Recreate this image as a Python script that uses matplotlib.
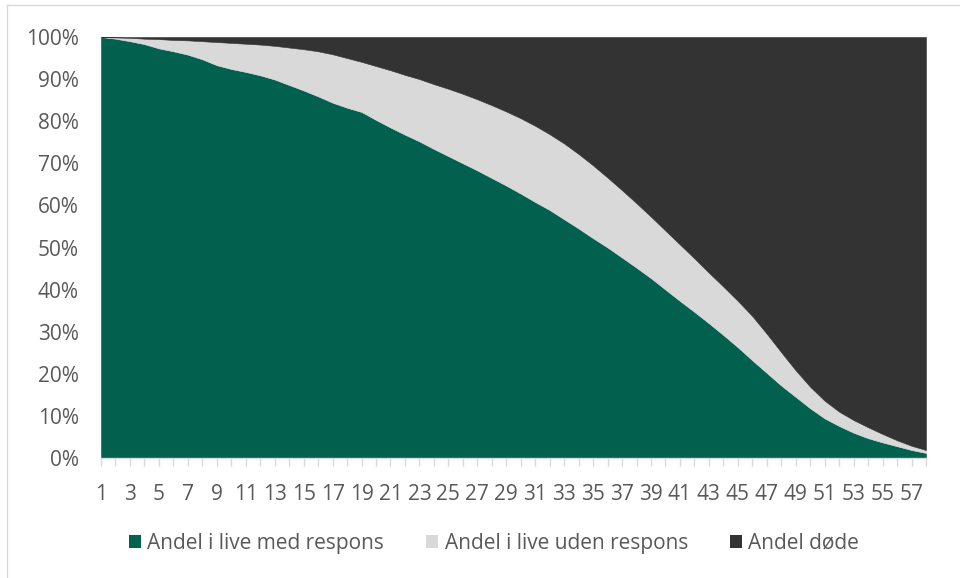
import matplotlib.pyplot as plt
import matplotlib.patches as pat
from matplotlib.lines import Line2D

GREEN = '#02604F'
LIGHT = '#D9D9D9'
DARK = '#333333'
TEXT = '#595959'
FONT = 'Open Sans'

perioder = list(range(1, 59))

# andele i procent, summerer til 100 for hver periode
med_respons = [
    100.0, 99.6, 99.0, 98.3, 97.3, 96.6, 95.8, 94.7, 93.3, 92.4,
    91.7, 90.9, 89.9, 88.6, 87.3, 85.9, 84.4, 83.2, 82.2, 80.3,
    78.5, 76.8, 75.2, 73.4, 71.7, 70.0, 68.3, 66.5, 64.7, 62.8,
    60.8, 58.9, 56.7, 54.5, 52.2, 50.0, 47.6, 45.2, 42.7, 40.0,
    37.3, 34.7, 32.0, 29.2, 26.3, 23.2, 20.2, 17.2, 14.5, 11.8,
    9.4, 7.6, 6.0, 4.7, 3.7, 2.8, 1.9, 1.2,
]
uden_respons = [
    0.0, 0.3, 0.8, 1.3, 2.2, 2.7, 3.4, 4.3, 5.5, 6.2,
    6.7, 7.3, 8.0, 8.9, 9.8, 10.7, 11.5, 11.8, 11.9, 12.8,
    13.6, 14.2, 14.8, 15.4, 16.0, 16.5, 16.9, 17.3, 17.6, 17.9,
    18.1, 18.0, 18.0, 17.7, 17.3, 16.6, 16.0, 15.3, 14.6, 14.0,
    13.4, 12.7, 12.0, 11.5, 11.0, 10.5, 9.3, 7.9, 6.3, 5.1,
    4.2, 3.4, 3.0, 2.6, 2.0, 1.4, 1.0, 0.7,
]
doede = [
    0.0, 0.1, 0.2, 0.4, 0.5, 0.7, 0.8, 1.0, 1.2, 1.4,
    1.6, 1.8, 2.1, 2.5, 2.9, 3.4, 4.1, 5.0, 5.9, 6.9,
    7.9, 9.0, 10.0, 11.2, 12.3, 13.5, 14.8, 16.2, 17.7, 19.3,
    21.1, 23.1, 25.3, 27.8, 30.5, 33.4, 36.4, 39.5, 42.7, 46.0,
    49.3, 52.6, 56.0, 59.3, 62.7, 66.3, 70.5, 74.9, 79.2, 83.1,
    86.4, 89.0, 91.0, 92.7, 94.3, 95.8, 97.1, 98.1,
]
serie_navne = ['Andel i live med respons', 'Andel i live uden respons', 'Andel døde']
farver = [GREEN, LIGHT, DARK]

plt.rcParams['font.family'] = [FONT, 'DejaVu Sans']

fig = plt.figure(figsize=(9.6, 5.78), dpi=100)
ax = fig.add_axes([101 / 960, 1 - 458 / 578, 825 / 960, 421 / 578])

polys = ax.stackplot(perioder, med_respons, uden_respons, doede, colors=farver)
for p, c in zip(polys, farver):
    p.set_edgecolor(c)
    p.set_linewidth(0.4)

ax.set_xlim(1, 58)
ax.set_ylim(0, 100)
ax.set_yticks(range(0, 101, 10))
ax.set_yticklabels([f'{v}%' for v in range(0, 101, 10)])
ax.set_xticks(perioder)
ax.set_xticklabels([str(p) if p % 2 == 1 else '' for p in perioder])

ax.tick_params(axis='y', length=0, pad=16, labelsize=15, labelcolor=TEXT)
ax.tick_params(axis='x', length=6, width=1, color=LIGHT, pad=13,
               labelsize=15, labelcolor=TEXT)
for side in ['left', 'right', 'top']:
    ax.spines[side].set_visible(False)
ax.spines['bottom'].set_color(LIGHT)
ax.spines['bottom'].set_linewidth(1)
ax.spines['bottom'].set_zorder(5)

handles = [pat.Patch(facecolor=c, edgecolor='none') for c in farver]
fig.legend(handles, serie_navne, loc='center', bbox_to_anchor=(494 / 960, 1 - 543 / 578),
           ncol=3, frameon=False, fontsize=15, labelcolor=TEXT,
           handlelength=0.6, handleheight=0.6, handletextpad=0.3, columnspacing=2.0)

# ramme om diagrammet
fig.add_artist(Line2D([7 / 960, 1], [1 - 5 / 578, 1 - 5 / 578], color=LIGHT, lw=1))
fig.add_artist(Line2D([7 / 960, 7 / 960], [0, 1 - 5 / 578], color=LIGHT, lw=1))

fig.savefig('out.png', dpi=100)
